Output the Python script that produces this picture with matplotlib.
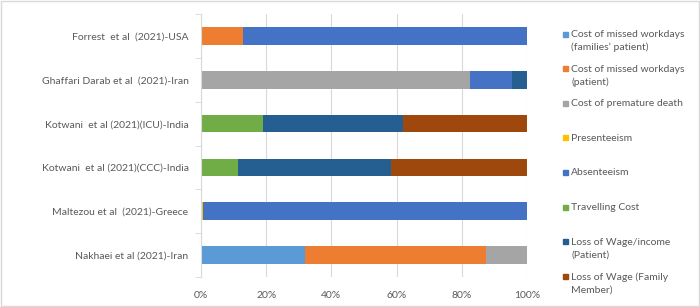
import matplotlib
matplotlib.use("Agg")
import matplotlib.pyplot as plt
from matplotlib.patches import Rectangle
import numpy as np

plt.rcParams['font.family'] = ['Lato', 'DejaVu Sans']

studies = ["Forrest  et al  (2021)-USA",
           "Ghaffari Darab et al  (2021)-Iran",
           "Kotwani  et al (2021)(ICU)-India",
           "Kotwani  et al (2021)(CCC)-India",
           "Maltezou et al  (2021)-Greece",
           "Nakhaei et al (2021)-Iran"]

series_names = ["Cost of missed workdays\n(families\u2019 patient)",
                "Cost of missed workdays\n(patient)",
                "Cost of premature death",
                "Presenteeism",
                "Absenteeism",
                "Travelling Cost",
                "Loss of Wage/income\n(Patient)",
                "Loss of Wage (Family\nMember)"]

colors = ["#5B9BD5", "#ED7D31", "#A5A5A5", "#FFC000",
          "#4472C4", "#70AD47", "#255E91", "#9E480E"]

# values in percent, per series, in study order
missed_families = [0, 0, 0, 0, 0, 31.9]
missed_patient = [12.9, 0, 0, 0, 0, 55.6]
premature_death = [0, 82.6, 0, 0, 0, 12.5]
presenteeism = [0, 0, 0, 0, 0.5, 0]
absenteeism = [87.1, 12.9, 0, 0, 99.5, 0]
travelling = [0, 0, 19.0, 11.2, 0, 0]
wage_patient = [0, 4.5, 43.0, 47.1, 0, 0]
wage_family = [0, 0, 38.0, 41.7, 0, 0]

series = [missed_families, missed_patient, premature_death, presenteeism,
          absenteeism, travelling, wage_patient, wage_family]

xticks = [0, 20, 40, 60, 80, 100]
xticklabels = ["0%", "20%", "40%", "60%", "80%", "100%"]

txt = "#595959"
fig = plt.figure(figsize=(7.0, 3.07), dpi=100)
ax = fig.add_axes([201/700, 1-277/307, 326/700, 263/307])

y = np.arange(len(studies))
left = np.zeros(len(studies))
for vals, c in zip(series, colors):
    v = np.array(vals, dtype=float)
    ax.barh(y, v, left=left, height=0.4, color=c, zorder=3)
    left += v

ax.set_xlim(0, 100)
ax.set_ylim(len(studies) - 0.5, -0.5)
ax.set_xticks(xticks)
ax.set_xticklabels(xticklabels, color=txt, fontsize=7.5)
ax.set_yticks(y)
ax.set_yticklabels(studies, color=txt, fontsize=7.5)
ax.set_yticks(np.arange(len(studies) + 1) - 0.5, minor=True)
ax.tick_params(axis='y', which='major', length=0, pad=9)
ax.tick_params(axis='y', which='minor', length=4, color="#D9D9D9", direction='out')
ax.tick_params(axis='x', length=0, pad=10)
ax.grid(axis='x', color="#D9D9D9", linewidth=0.8, zorder=0)
for s in ['top', 'right', 'bottom']:
    ax.spines[s].set_visible(False)
ax.spines['left'].set_color("#D9D9D9")
ax.spines['left'].set_zorder(4)

# legend drawn manually (square aligned with first text line)
leg_x = 563 / 700
text_x = 571 / 700
y0 = 34
step = 34.6
for i, (name, c) in enumerate(zip(series_names, colors)):
    ypx = y0 + i * step
    fig.patches.append(Rectangle((leg_x, 1 - (ypx + 2.5) / 307), 5 / 700, 5 / 307,
                                 transform=fig.transFigure, color=c))
    fig.text(text_x, 1 - (ypx - 4) / 307, name, color=txt, fontsize=7.5,
             va='top', ha='left', linespacing=1.5)

fig.patches.append(Rectangle((0.001, 0.002), 0.997, 0.995, transform=fig.transFigure,
                             fill=False, edgecolor="#D9D9D9", linewidth=1))

fig.savefig("out.png", dpi=100)
